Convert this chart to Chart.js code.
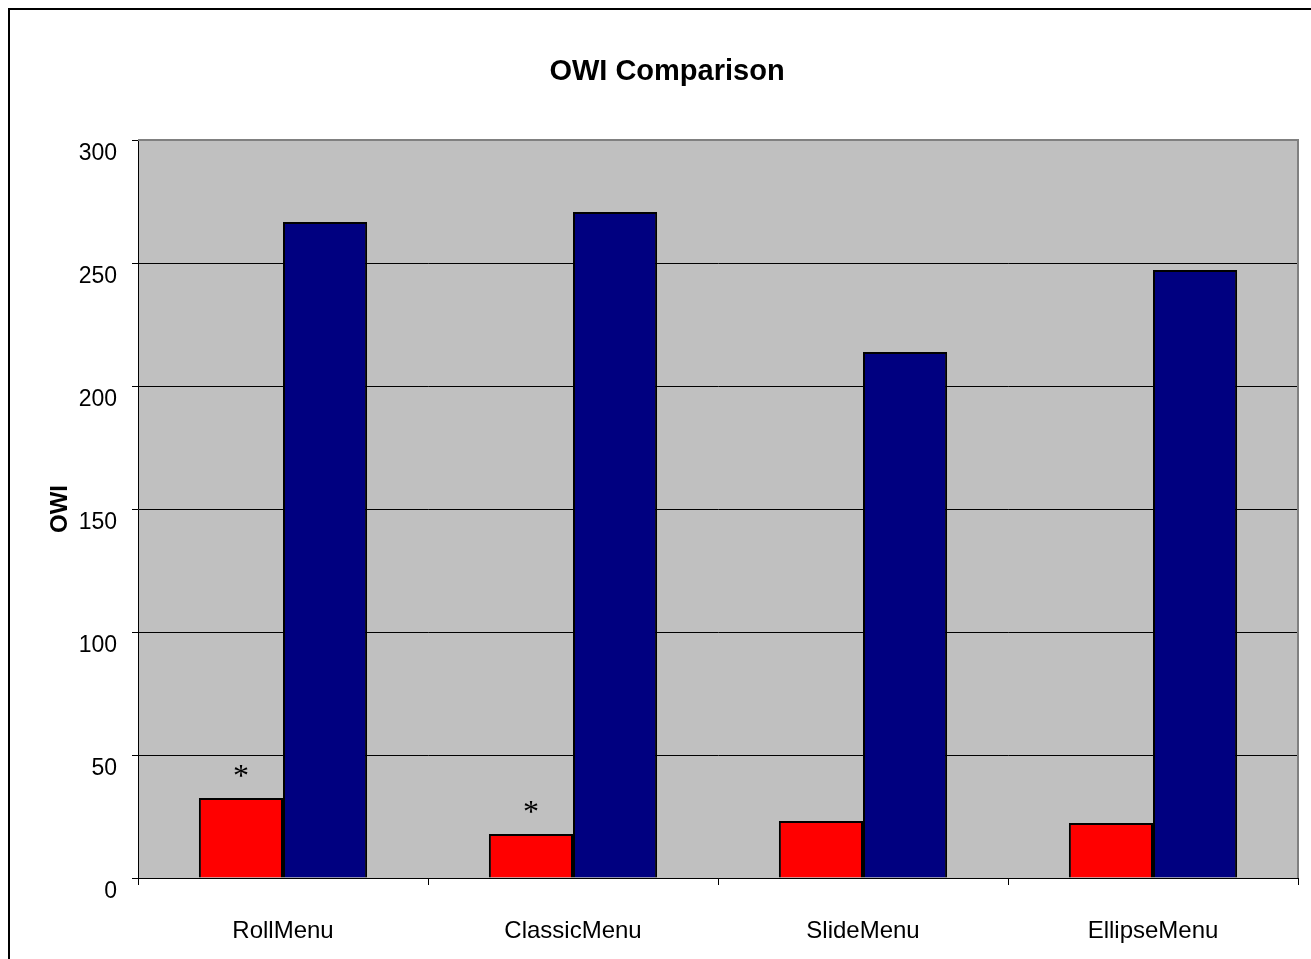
<!DOCTYPE html>
<html>
<head>
<meta charset="utf-8">
<script src="https://cdn.jsdelivr.net/npm/chart.js@4"></script>
<style>
  html, body { margin: 0; padding: 0; background: #fff; overflow: hidden; }
  #frame { position: absolute; left: 8px; top: 8px; width: 1400px; height: 1100px; border: 2px solid #000; box-sizing: border-box; }
  #wrap { position: absolute; left: 0; top: 0; width: 1311px; height: 959px; }
</style>
</head>
<body>
<div id="frame"></div>
<div id="wrap"><canvas id="c"></canvas></div>
<script>
const categories = ['RollMenu', 'ClassicMenu', 'SlideMenu', 'EllipseMenu'];
const seriesRed = [32.5, 17.9, 23.2, 22.4];
const seriesBlue = [266.7, 270.7, 213.8, 247.2];
const significance = ['*', '*', '', ''];
const yTicks = [0, 50, 100, 150, 200, 250, 300];

const FONT = "'Liberation Sans', Arial, sans-serif";

const plotDecor = {
  id: 'plotDecor',
  beforeDraw(chart) {
    const a = chart.chartArea, ctx = chart.ctx;
    ctx.save();
    ctx.fillStyle = '#C0C0C0';
    ctx.fillRect(a.left, a.top, a.right - a.left, a.bottom - a.top);
    ctx.restore();
  },
  afterDatasetsDraw(chart) {
    const a = chart.chartArea, ctx = chart.ctx;
    ctx.save();
    ctx.strokeStyle = '#808080';
    ctx.lineWidth = 2;
    ctx.beginPath();
    ctx.moveTo(a.left, a.top);
    ctx.lineTo(a.right, a.top);
    ctx.lineTo(a.right, a.bottom);
    ctx.stroke();
    // significance markers above red bars
    const meta = chart.getDatasetMeta(0);
    ctx.fillStyle = '#000';
    ctx.font = "32px 'Liberation Serif', 'Times New Roman', serif";
    ctx.textAlign = 'center';
    ctx.textBaseline = 'middle';
    meta.data.forEach((bar, i) => {
      if (significance[i]) ctx.fillText(significance[i], bar.x, bar.y - 20);
    });
    ctx.restore();
  }
};

new Chart(document.getElementById('c'), {
  type: 'bar',
  data: {
    labels: categories,
    datasets: [
      { label: 'Series 1', data: seriesRed, backgroundColor: '#FF0000', borderColor: '#000', borderWidth: 2, barPercentage: 1, categoryPercentage: 0.58 },
      { label: 'Series 2', data: seriesBlue, backgroundColor: '#000080', borderColor: '#000', borderWidth: 2, barPercentage: 1, categoryPercentage: 0.58 }
    ]
  },
  options: {
    responsive: true,
    maintainAspectRatio: false,
    animation: false,
    layout: { padding: { left: 36, right: 13, top: 0, bottom: 0 } },
    plugins: {
      legend: { display: false },
      tooltip: { enabled: false },
      title: {
        display: true,
        text: 'OWI Comparison',
        color: '#000',
        font: { family: FONT, size: 29, weight: 'bold', lineHeight: 1.2 },
        padding: { top: 55, bottom: 50.2 }
      }
    },
    scales: {
      x: {
        grid: { display: true, drawOnChartArea: false, drawTicks: true, tickLength: 7, tickColor: '#000', offset: true },
        border: { display: true, color: '#000', width: 1 },
        ticks: { color: '#000', font: { family: FONT, size: 24 }, padding: 32, maxRotation: 0 },
        afterFit(scale) { scale.height = 81; }
      },
      y: {
        min: 0, max: 300,
        afterBuildTicks(scale) { scale.ticks = yTicks.map(v => ({ value: v })); },
        grid: {
          color: ctx => (ctx.tick && ctx.tick.value === 300) ? '#808080' : '#000',
          lineWidth: 1,
          drawTicks: true, tickLength: 6, tickColor: '#000'
        },
        border: { display: true, color: '#000', width: 1 },
        ticks: { color: '#000', font: { family: FONT, size: 23 }, padding: 15, labelOffset: 14 },
        title: {
          display: true, text: 'OWI', color: '#000',
          font: { family: FONT, size: 24, weight: 'bold', lineHeight: 1.2 },
          padding: { top: 10, bottom: 0 }
        },
        afterFit(scale) { scale.width = 102; }
      }
    }
  },
  plugins: [plotDecor]
});
</script>
</body>
</html>
